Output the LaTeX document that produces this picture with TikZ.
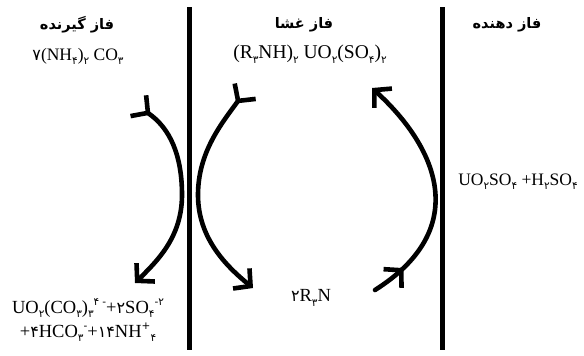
\documentclass[tikz,border=0pt]{standalone}
\usepackage{fontspec}
\setmainfont{Liberation Serif}
\newfontfamily\fa[Script=Arabic]{DejaVu Sans}
\TeXXeTstate=1
\usetikzlibrary{arrows.meta,decorations.markings}
\newcommand\sbx[1]{\raisebox{-0.5ex}{\fontsize{10.5}{10.5}\selectfont\fa #1}}
\newcommand\spx[1]{\raisebox{1.0ex}{\fontsize{10.5}{10.5}\selectfont\fa #1}}
\newcommand\fd[1]{{\fontsize{16}{16}\selectfont\fa #1}}
\newcommand\phtxt[1]{{\fontsize{14.5}{16}\selectfont\fa\bfseries\beginR #1\endR}}
\begin{document}
\begin{tikzpicture}[x=1pt,y=-1pt,
  phase/.style={inner sep=0pt},
  chem/.style={font=\fontsize{18.5}{24}\selectfont, inner sep=0pt, align=center},
  chems/.style={chem, font=\fontsize{17.5}{24}\selectfont},
  chemb/.style={chem, font=\fontsize{19.5}{24}\selectfont},
  wall/.style={line width=5pt},
  barb/.tip={Straight Barb[length=12pt,width=26pt]},
  flow/.style={line width=4.6pt, line cap=round, -barb},
  midtip/.style={postaction={decorate}, decoration={markings,
      mark=at position #1 with {\arrow{barb}}}}
]
\useasboundingbox (0,0) rectangle (584,356);
\fill[white] (0,0) rectangle (584,356);
% walls
\coordinate (w1t) at (189.5,7);  \coordinate (w1b) at (189.5,350);
\coordinate (w2t) at (442,7);    \coordinate (w2b) at (442,350);
\draw[wall] (w1t) -- (w1b);
\draw[wall] (w2t) -- (w2b);
% headings
\node[phase] (h1) at (77,25)  {\phtxt{فاز گیرنده}};
\node[phase] (h2) at (304,25) {\phtxt{فاز غشا}};
\node[phase] (h3) at (507,25) {\phtxt{فاز دهنده}};
% chemical texts
\node[chems] (c1) at (78,56) {\fd{۷}(NH\sbx{۴})\sbx{۲} CO\sbx{۳}};
\node[chemb] (c2) at (310,54) {(R\sbx{۳}NH)\sbx{۲} UO\sbx{۲}(SO\sbx{۴})\sbx{۲}};
\node[chems] (c3) at (518,182) {UO\sbx{۲}SO\sbx{۴} +H\sbx{۲}SO\sbx{۴}};
\node[chem] (c4) at (88,320) {UO\sbx{۲}(CO\sbx{۳})\sbx{۳}\spx{۴}\,\spx{-}+\fd{۲}SO\sbx{۴}\spx{-}\spx{۲}\\
  +\fd{۴}HCO\sbx{۳}\spx{-}+\fd{۱۴}NH\spx{+}\sbx{۴}};
\node[chem] (c5) at (311,298) {\fd{۲}R\sbx{۳}N};
% arc end points
\coordinate (la) at (148,113); \coordinate (lm) at (182,195); \coordinate (lb) at (135,283);
\coordinate (ma) at (238,101); \coordinate (mm) at (198,195); \coordinate (mb) at (253,288);
\coordinate (ra) at (375,290); \coordinate (rb) at (372,88);
% flows
\draw[flow, midtip=3pt] (la) .. controls (170,128) and (182,155) .. (lm)
  .. controls (182,238) and (156,262) .. (lb);
\draw[flow, midtip=3pt] (ma) .. controls (222,123) and (198,152) .. (mm)
  .. controls (198,238) and (226,266) .. (mb);
\draw[flow, midtip=36pt] (ra) .. controls (470,230) and (440,150) .. (rb);
\end{tikzpicture}
\end{document}
